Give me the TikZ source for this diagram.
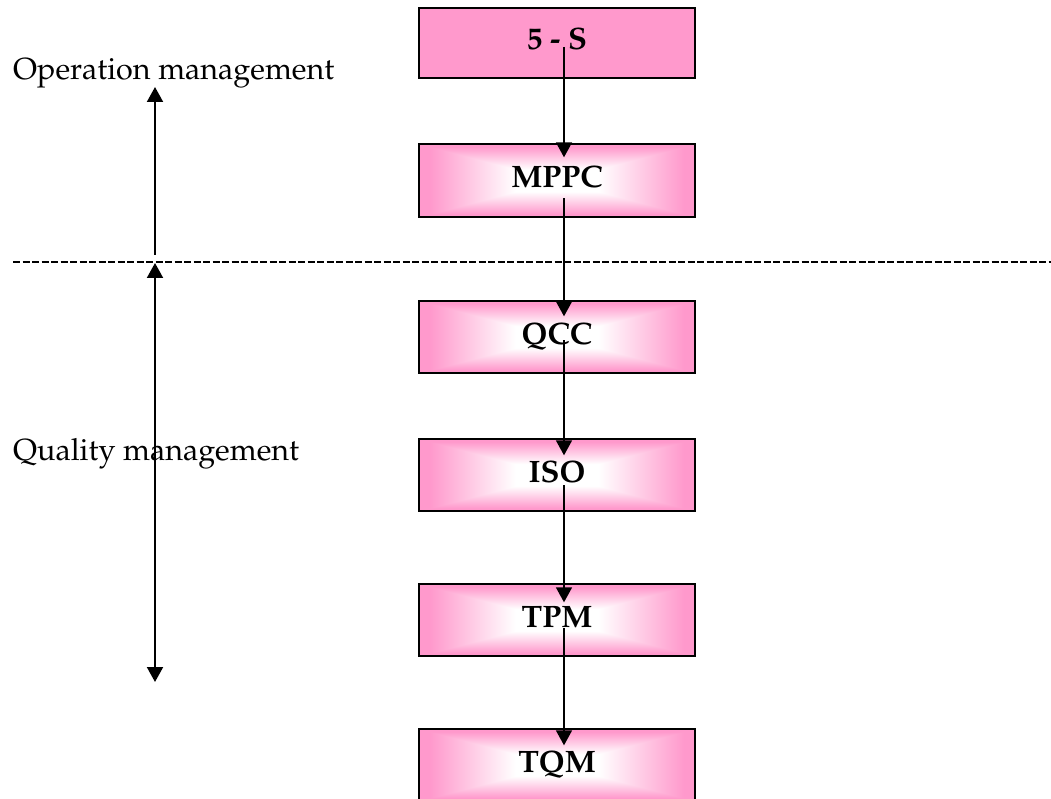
\documentclass[tikz,border=0pt]{standalone}
\usepackage[T1]{fontenc}
\renewcommand{\rmdefault}{ppl}
\usetikzlibrary{arrows.meta}
\pgfdeclarefunctionalshading{boxglow}{\pgfpoint{-50bp}{-50bp}}{\pgfpoint{50bp}{50bp}}{}{
  abs exch abs 2 copy lt {exch} if pop
  25 div 0.3 sub 0.62 div
  dup 0 lt {pop 0} if dup 1 gt {pop 1} if
  dup 0.4 mul 1 exch sub exch 0.2 mul 1 exch sub
  1 3 1 roll
}
\definecolor{boxpink}{RGB}{255,153,204}
\begin{document}
\begin{tikzpicture}[x=1pt,y=-1pt,
  box/.style={draw=black,line width=1.4pt,minimum width=276pt,minimum height=72pt,inner sep=0pt,
    text height=22pt,text depth=8pt,
    font=\fontsize{31}{37}\selectfont\bfseries},
  glowbox/.style={box,shading=boxglow},
  flatbox/.style={box,fill=boxpink},
  conn/.style={line width=1.6pt,-{Triangle[width=16pt,length=15pt]}},
  sidearrow/.style={line width=2pt},
  lbl/.style={font=\fontsize{30.5}{36}\selectfont,inner sep=0pt,anchor=base west}]
\useasboundingbox (0,0) rectangle (1051,799);
% labels
\node[lbl] (oplbl) at (13,80) {Operation management};
\node[lbl] (qmlbl) at (13,460) {Quality management};
% boxes
\node[flatbox,minimum height=70pt] (fiveS) at (557,43) {5 - S};
\node[glowbox,minimum height=73pt] (mppc) at (557,180.5) {MPPC};
\node[glowbox] (qcc) at (557,337) {QCC};
\node[glowbox] (iso) at (557,475) {ISO};
\node[glowbox] (tpm) at (557,620) {TPM};
\node[glowbox] (tqm) at (557,765) {TQM};
% connectors
\draw[conn] ([xshift=7pt,yshift=-4pt]fiveS.center) -- ([xshift=7pt,yshift=-14pt]mppc.north);
\draw[conn] ([xshift=7pt,yshift=-18pt]mppc.center) -- ([xshift=7pt,yshift=-16pt]qcc.north);
\draw[conn] ([xshift=7pt,yshift=-3pt]qcc.center) -- ([xshift=7pt,yshift=-17pt]iso.north);
\draw[conn] ([xshift=7pt,yshift=-10pt]iso.center) -- ([xshift=7pt,yshift=-19pt]tpm.north);
\draw[conn] ([xshift=7pt,yshift=-8pt]tpm.center) -- ([xshift=7pt,yshift=-17pt]tqm.north);
% dashed separator
\coordinate (dashL) at (13,262);
\coordinate (dashR) at (1051,262);
\draw[line width=2.5pt,dash pattern=on 7pt off 2.5pt] (dashL) -- (dashR);
% side arrows
\coordinate (opBot) at (155,255);
\coordinate (opTop) at (155,87);
\coordinate (qmTop) at (155,263);
\coordinate (qmBot) at (155,682);
\draw[sidearrow,-{Triangle[width=16pt,length=15pt]}] (opBot) -- (opTop);
\draw[sidearrow,{Triangle[width=16pt,length=15pt]}-{Triangle[width=16pt,length=15pt]}] (qmTop) -- (qmBot);
\end{tikzpicture}
\end{document}
